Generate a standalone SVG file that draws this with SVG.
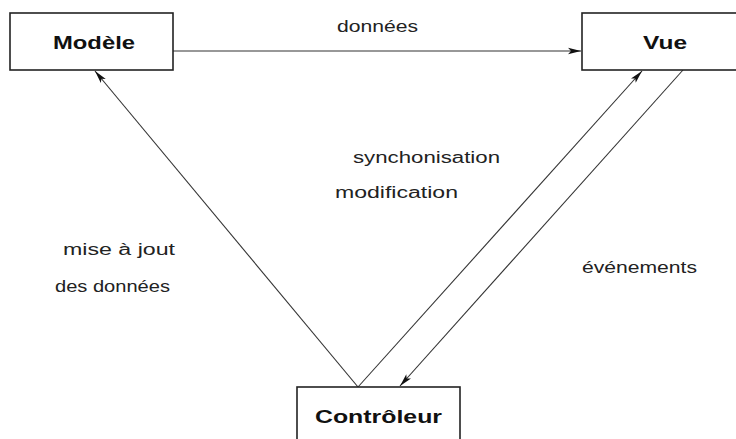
<svg xmlns="http://www.w3.org/2000/svg" width="736" height="439" viewBox="0 0 736 439">
<defs>
<marker id="ah" markerWidth="14" markerHeight="8" refX="13" refY="4" orient="auto" markerUnits="userSpaceOnUse">
<path d="M0,0.8 L13,4 L0,7.2 L3,4 Z" fill="#111"/>
</marker>
<style>
.box{fill:#fff;stroke:#222;stroke-width:1.6}
.bl{font-family:"Liberation Sans",Arial,sans-serif;font-weight:bold;font-size:18px;fill:#111}
.lb{font-family:"Liberation Sans",Arial,sans-serif;font-size:16px;fill:#222}
.ln{stroke:#333;stroke-width:1.1;fill:none}
</style>
</defs>
<rect width="736" height="439" fill="#fff"/>
<g id="connectors">
<line class="ln" x1="173" y1="51" x2="581" y2="51" marker-end="url(#ah)"/>
<line class="ln" x1="358" y1="387" x2="95" y2="71" marker-end="url(#ah)"/>
<line class="ln" x1="358" y1="387" x2="642" y2="71" marker-end="url(#ah)"/>
<line class="ln" x1="683" y1="70" x2="400" y2="386" marker-end="url(#ah)"/>
</g>
<g id="modele">
<rect class="box" x="10" y="13" width="163" height="57"/>
<text class="bl" x="53" y="49" textLength="82" lengthAdjust="spacingAndGlyphs">Modèle</text>
</g>
<g id="vue">
<rect class="box" x="582" y="13" width="160" height="57"/>
<text class="bl" x="643" y="49" textLength="44" lengthAdjust="spacingAndGlyphs">Vue</text>
</g>
<g id="controleur">
<rect class="box" x="297" y="387" width="163" height="60"/>
<text class="bl" x="315" y="423" textLength="127" lengthAdjust="spacingAndGlyphs">Contrôleur</text>
</g>
<g id="labels">
<text class="lb" x="337" y="32" textLength="81" lengthAdjust="spacingAndGlyphs">données</text>
<text class="lb" x="353" y="163" textLength="147" lengthAdjust="spacingAndGlyphs">synchonisation</text>
<text class="lb" x="335" y="198" textLength="123" lengthAdjust="spacingAndGlyphs">modification</text>
<text class="lb" x="63" y="255" textLength="112" lengthAdjust="spacingAndGlyphs">mise à jout</text>
<text class="lb" x="55" y="292" textLength="115" lengthAdjust="spacingAndGlyphs">des données</text>
<text class="lb" x="582" y="273" textLength="115" lengthAdjust="spacingAndGlyphs">événements</text>
</g>
</svg>
